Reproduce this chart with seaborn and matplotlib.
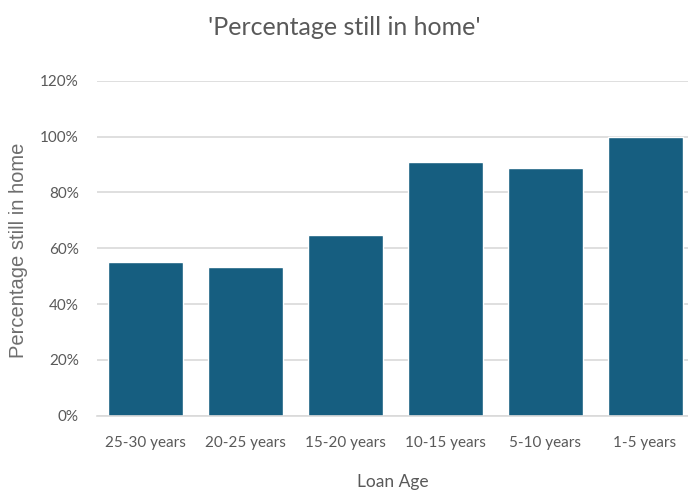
import matplotlib
matplotlib.use("Agg")
import matplotlib.pyplot as plt
import seaborn as sns
import pandas as pd
from matplotlib.ticker import FuncFormatter, MultipleLocator

categories = ["25-30 years", "20-25 years", "15-20 years", "10-15 years", "5-10 years", "1-5 years"]
values = [0.55, 0.532, 0.648, 0.91, 0.887, 1.00]

df = pd.DataFrame({"Loan Age": categories, "Pct": values})

sns.set_theme(style="white")
narrow = ["Lato", "DejaVu Sans"]
plt.rcParams["font.family"] = narrow
gray = "#595959"

fig = plt.figure(figsize=(6.88, 4.93), dpi=100)
ax = fig.add_axes([0.141, 0.157, 0.859, 0.679])

sns.barplot(data=df, x="Loan Age", y="Pct", color="#165E80", width=0.75,
            saturation=1, ax=ax, order=categories)

ax.set_ylim(0, 1.2)
ax.set_xlim(-0.48, 5.43)
ax.yaxis.set_major_locator(MultipleLocator(0.2))
ax.yaxis.set_major_formatter(FuncFormatter(lambda v, p: f"{round(v*100)}%"))
ax.grid(axis="y", color="#D9D9D9", linewidth=1.2)
ax.set_axisbelow(True)
for s in ["top", "right", "left"]:
    ax.spines[s].set_visible(False)
ax.spines["bottom"].set_color("#D9D9D9")
ax.spines["bottom"].set_linewidth(1.2)

ax.tick_params(axis="both", length=0, colors=gray, labelsize=11)
ax.tick_params(axis="y", pad=13)
ax.tick_params(axis="x", pad=15)
for t in ax.get_xticklabels() + ax.get_yticklabels():
    t.set_color(gray)

ax.set_xlabel("Loan Age", color=gray, fontsize=12.5, labelpad=17)
ax.set_ylabel("Percentage still in home", color="#6E6E6E", fontsize=14.5,
              family=["Liberation Sans", "DejaVu Sans"], fontweight="medium")
ax.yaxis.set_label_coords(-0.117, 0.495)
fig.suptitle("'Percentage still in home'", color=gray, fontsize=18, y=0.968)

fig.savefig("out.png", dpi=100)
